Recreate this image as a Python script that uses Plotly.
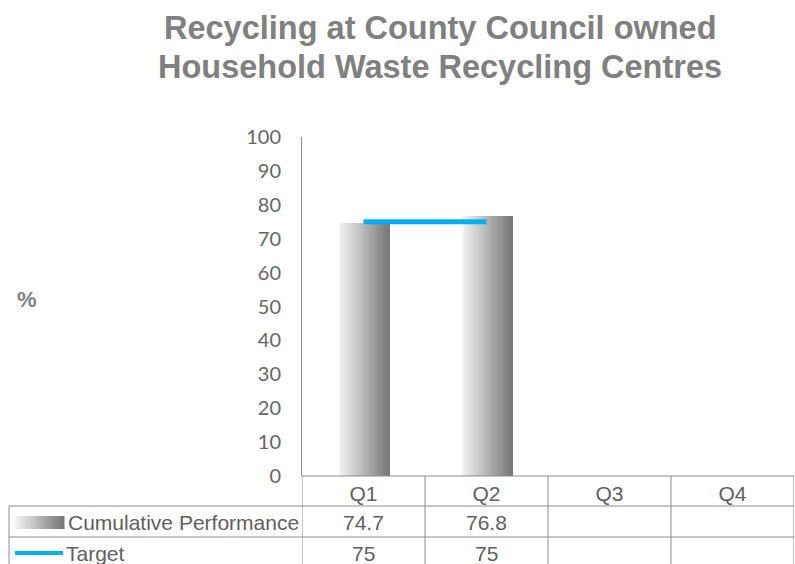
import plotly.graph_objects as go

# ---- data ----
categories = ["Q1", "Q2", "Q3", "Q4"]
performance = [74.7, 76.8, None, None]
target = [75, 75, None, None]
series_names = ["Cumulative Performance", "Target"]
y_ticks = list(range(0, 101, 10))
title_lines = ["Recycling at County Council owned", "Household Waste Recycling Centres"]
y_label = "%"

# ---- geometry (px) ----
W, H = 795, 564
L, R, T, B = 302, 1, 137, 88
plot_w = W - L - R
plot_h = H - T - B


def px_x(px):
    return (px - L) / plot_w


def px_y(py):
    return (H - B - py) / plot_h


grid_col = "#8c8c8c"
text_col = "#5f5f5f"
cyan = "#00b0f0"

fig = go.Figure()

# gradient bars made of thin slices
N = 30
bw = 0.41
c0 = (242, 242, 242)
c1 = (120, 120, 120)
for i in range(N):
    t = i / (N - 1)
    col = "rgb(%d,%d,%d)" % tuple(round(a + (b - a) * t) for a, b in zip(c0, c1))
    fig.add_trace(go.Bar(
        x=categories, y=performance,
        width=[bw / N + 0.002] * len(categories),
        offset=[-bw / 2 + 0.01 + i * bw / N] * len(categories),
        marker=dict(color=col, line=dict(width=0)),
        showlegend=False, hoverinfo="skip",
    ))

fig.add_trace(go.Scatter(
    x=categories, y=target, mode="lines",
    line=dict(color=cyan, width=5),
    showlegend=False, hoverinfo="skip",
))

shapes = []
shapes.append(dict(type="line", xref="paper", yref="paper",
                   x0=0, x1=1, y0=px_y(476), y1=px_y(476),
                   line=dict(color=grid_col, width=1)))
for yy in [506, 537]:
    shapes.append(dict(type="line", xref="paper", yref="paper",
                       x0=px_x(9), x1=1, y0=px_y(yy), y1=px_y(yy),
                       line=dict(color=grid_col, width=1)))
for k in range(len(categories) + 1):
    shapes.append(dict(type="line", xref="x", yref="paper",
                       x0=k - 0.5, x1=k - 0.5, y0=px_y(476), y1=px_y(H + 5),
                       line=dict(color=grid_col, width=1)))
shapes.append(dict(type="line", xref="paper", yref="paper",
                   x0=px_x(9), x1=px_x(9), y0=px_y(506), y1=px_y(H + 5),
                   line=dict(color=grid_col, width=1)))

# legend keys inside table
nk = 24
kx0, kx1 = 15, 64
for i in range(nk):
    t = i / (nk - 1)
    col = "rgb(%d,%d,%d)" % tuple(round(a + (b - a) * t) for a, b in zip(c0, c1))
    xa = kx0 + (kx1 - kx0) * i / nk
    xb = kx0 + (kx1 - kx0) * (i + 1) / nk + 0.5
    shapes.append(dict(type="rect", xref="paper", yref="paper",
                       x0=px_x(xa), x1=px_x(xb), y0=px_y(529), y1=px_y(516),
                       fillcolor=col, line=dict(width=0)))
shapes.append(dict(type="line", xref="paper", yref="paper",
                   x0=px_x(15), x1=px_x(63), y0=px_y(553), y1=px_y(553),
                   line=dict(color=cyan, width=4)))

annotations = []
tfont = dict(family="Liberation Sans, Arial, sans-serif", size=21, color=text_col)
row_centers = [522, 553]
for name, yy, xs in zip(series_names, row_centers, [66, 64]):
    annotations.append(dict(text=name, xref="paper", yref="paper",
                            x=px_x(xs), y=px_y(yy), xanchor="left", yanchor="middle",
                            showarrow=False, font=tfont))
for vals, yy in zip([performance, target], row_centers):
    for c, v in zip(categories, vals):
        if v is None:
            continue
        annotations.append(dict(text=("%g" % v), xref="x", yref="paper",
                                x=c, y=px_y(yy), xanchor="center", yanchor="middle",
                                showarrow=False, font=tfont))
annotations.append(dict(text="<b>%s</b>" % y_label, xref="paper", yref="paper",
                        x=px_x(27), y=px_y(299), xanchor="center", yanchor="middle",
                        showarrow=False,
                        font=dict(family="Liberation Sans, Arial, sans-serif", size=22, color="#808080")))
for line, yy in zip(title_lines, [28, 67]):
    annotations.append(dict(text="<b>%s</b>" % line, xref="paper", yref="paper",
                            x=px_x(440), y=px_y(yy), xanchor="center", yanchor="middle",
                            showarrow=False,
                            font=dict(family="Liberation Sans, Arial, sans-serif", size=32.5, color="#808080")))

fig.update_layout(
    width=W, height=H,
    margin=dict(l=L, r=R, t=T, b=B),
    paper_bgcolor="white", plot_bgcolor="white",
    barmode="overlay", bargap=0,
    xaxis=dict(range=[-0.5, len(categories) - 0.5], type="category",
               showgrid=False, zeroline=False, showline=False,
               ticks="", ticklabelstandoff=3,
               tickfont=tfont, fixedrange=True),
    yaxis=dict(range=[0, 100], tickvals=y_ticks, showgrid=False, zeroline=False,
               showline=True, linecolor=grid_col, linewidth=1,
               ticks="", ticklabelstandoff=16,
               tickfont=dict(family="Lato, sans-serif", size=20, color="#666666")),
    shapes=shapes, annotations=annotations,
    showlegend=False,
)

fig.write_html("out.html", config={"displayModeBar": False},
               post_script="document.body.style.margin='0';document.body.style.overflow='hidden';")
